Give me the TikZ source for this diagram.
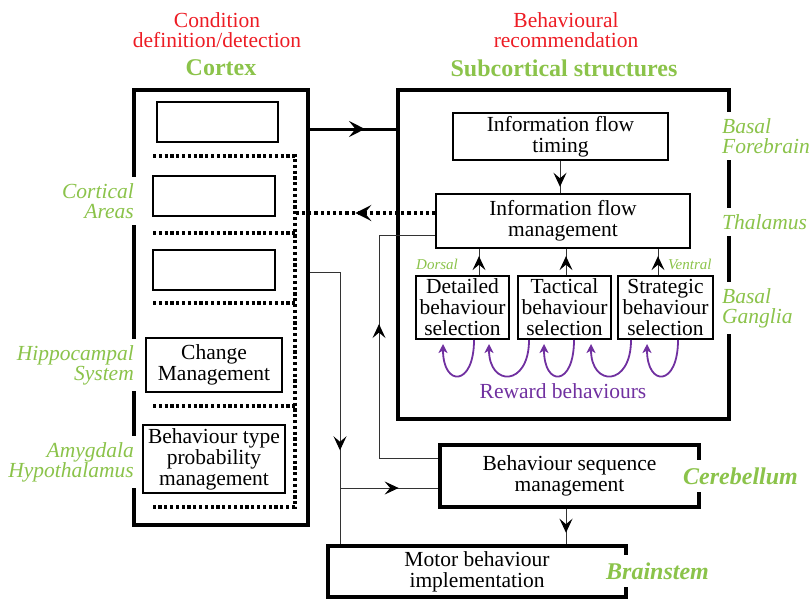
\documentclass[tikz,border=0pt]{standalone}
\usepackage{fontspec}
\setmainfont{Liberation Serif}
\usetikzlibrary{arrows.meta,decorations.markings}
\definecolor{lgreen}{RGB}{139,195,74}
\definecolor{hred}{RGB}{237,28,36}
\definecolor{rpurple}{RGB}{112,48,160}
\newcommand\mainsz{\fontsize{21.5pt}{21pt}\selectfont}
\newcommand\labsz{\fontsize{21.5pt}{20pt}\selectfont}
\newcommand\hdrbsz{\fontsize{24pt}{24pt}\selectfont}
\newcommand\smlsz{\fontsize{15pt}{15pt}\selectfont}
\tikzset{
  tbox/.style={draw, line width=1.4pt, inner sep=0pt, align=center, font=\mainsz},
  bigbox/.style={draw, line width=4.5pt, inner sep=0pt},
  medbox/.style={draw, line width=4.5pt, inner sep=0pt, align=center, font=\mainsz},
  hdr/.style={text=hred, align=center, font=\labsz},
  hdrb/.style={text=lgreen, font=\hdrbsz\bfseries},
  rlab/.style={text=lgreen, fill=white, align=left, font=\labsz\itshape, inner xsep=2pt, inner ysep=6pt},
  llab/.style={text=lgreen, fill=white, align=right, font=\labsz\itshape, inner xsep=2pt, inner ysep=6pt},
  blab/.style={text=lgreen, fill=white, font=\hdrbsz\bfseries\itshape, inner xsep=2pt, inner ysep=8pt},
  slab/.style={text=lgreen, font=\smlsz\itshape, inner sep=0pt},
  conn/.style={draw=black!80, line width=1pt},
  thickconn/.style={draw=black, line width=3pt},
  dotline/.style={draw=black, line width=3.2pt, dash pattern=on 3.2pt off 2.6pt},
  dotarr/.style={draw=black, line width=3.2pt, dash pattern=on 3.2pt off 3pt},
  midarr/.style={postaction={decorate}, decoration={markings, mark=at position #1 with {\arrow[black]{Stealth[length=14pt,width=13pt,inset=5.5pt]}}}},
  bigmidarr/.style={postaction={decorate}, decoration={markings, mark=at position #1 with {\arrow[black]{Stealth[length=16pt,width=16pt,inset=6.5pt]}}}},
  rwloop/.style={draw=rpurple, line width=1.8pt, -{Stealth[length=9pt,width=9pt,inset=2.5pt]}},
}
\begin{document}
\begin{tikzpicture}[x=1pt,y=-1pt]
\useasboundingbox (0,0) rectangle (810,599);

% headers
\node[hdr] (hc) at (217,30) {Condition\\definition/detection};
\node[hdrb] (hcx) at (221,68) {Cortex};
\node[hdr] (hb) at (566,30) {Behavioural\\recommendation};
\node[hdrb] (hsx) at (564,68) {Subcortical structures};

% big boxes
\node[bigbox, minimum width=174pt, minimum height=435pt] (cortex) at (221,307.5) {};
\node[bigbox, minimum width=331pt, minimum height=329pt] (sub) at (563.5,254.5) {};

% cortex contents
\node[tbox, minimum width=121pt, minimum height=40pt] (e1) at (217.5,122) {};
\node[tbox, minimum width=122pt, minimum height=40pt] (e2) at (214,196) {};
\node[tbox, minimum width=122pt, minimum height=40pt] (e3) at (214,270) {};
\node[tbox, minimum width=136pt, minimum height=54pt] (chg) at (214,365) {Change\\Management};
\node[tbox, minimum width=142pt, minimum height=68pt] (btp) at (214,459) {Behaviour type\\probability\\management};
\draw[dotline] (153,156) -- (295,156) -- (295,507) -- (153,507);
\foreach \yy in {233,303,406} \draw[dotline] (153,\yy) -- (295,\yy);

% subcortical contents
\node[tbox, minimum width=215pt, minimum height=47pt] (tim) at (560.5,136.5) {Information flow\\timing};
\node[tbox, minimum width=254pt, minimum height=54pt] (mgt) at (563,221) {Information flow\\management};
\node[tbox, minimum width=93pt, minimum height=63pt] (det) at (462.5,307.5) {Detailed\\behaviour\\selection};
\node[tbox, minimum width=93pt, minimum height=63pt] (tac) at (564.5,307.5) {Tactical\\behaviour\\selection};
\node[tbox, minimum width=95pt, minimum height=63pt] (str) at (665.5,307.5) {Strategic\\behaviour\\selection};
\node[slab, anchor=west] (dors) at (416,264) {Dorsal};
\node[slab, anchor=west] (vent) at (668,264) {Ventral};

% lower boxes
\node[medbox, minimum width=259pt, minimum height=62pt] (seq) at (569.5,476) {Behaviour sequence\\management};
\node[medbox, minimum width=298pt, minimum height=51pt] (mot) at (477,571.5) {Motor behaviour\\implementation};

% helper coordinates
\coordinate (y129) at (0,129);
\coordinate (dv) at (295,213);
\coordinate (y235) at (0,235);
\coordinate (y458) at (0,458);
\coordinate (y272) at (0,272);
\coordinate (y488) at (0,488);
\coordinate (xa) at (379,0);
\coordinate (xb) at (340,0);
\coordinate (x479) at (479,0);
\coordinate (x566) at (566,0);
\coordinate (x658) at (658,0);
\coordinate (xt) at (560,0);

% connectors
\draw[thickconn, bigmidarr=0.64] (cortex.east |- y129) -- (sub.west |- y129);
\draw[dotarr, bigmidarr=0.57] (mgt.west |- dv) -- (dv);
\draw[conn, midarr=0.8] (xt |- tim.south) -- (xt |- mgt.north);
\draw[conn, midarr=0.72] (x479 |- det.north) -- (x479 |- mgt.south);
\draw[conn, midarr=0.72] (x566 |- tac.north) -- (x566 |- mgt.south);
\draw[conn, midarr=0.72] (x658 |- str.north) -- (x658 |- mgt.south);
\draw[conn, midarr=0.57] (seq.west |- y458) -- (xa |- y458) -- (xa |- y235) -- (mgt.west |- y235);
\draw[conn, midarr=0.69] (cortex.east |- y272) -- (xb |- y272) -- (xb |- mot.north);
\draw[conn, midarr=0.6] (xb |- y488) -- (seq.west |- y488);
\draw[conn, midarr=0.68] (x566 |- seq.south) -- (x566 |- mot.north);

% reward loops
\foreach \a/\b in {474/443, 529/489, 574/544, 631/591, 678/647}
  \draw[rwloop] (\a,340) .. controls (\a,387) and (\b,387) .. (\b,344);
\node[font=\mainsz, text=rpurple] (rw) at (563,391) {Reward behaviours};

% region labels
\node[rlab, anchor=west] (bf) at (720,136) {Basal\\Forebrain};
\node[rlab, anchor=west] (th) at (720,222) {Thalamus};
\node[rlab, anchor=west] (bg) at (720,308) {Basal\\Ganglia};
\node[llab, anchor=east] (ca) at (136,201) {Cortical\\Areas};
\node[llab, anchor=east] (hs) at (136,365) {Hippocampal\\System};
\node[llab, anchor=east] (ah) at (136,462) {Amygdala\\Hypothalamus};
\node[blab, anchor=west] (cer) at (681,476) {Cerebellum};
\node[blab, anchor=west] (brn) at (604,571) {Brainstem};
\end{tikzpicture}
\end{document}
